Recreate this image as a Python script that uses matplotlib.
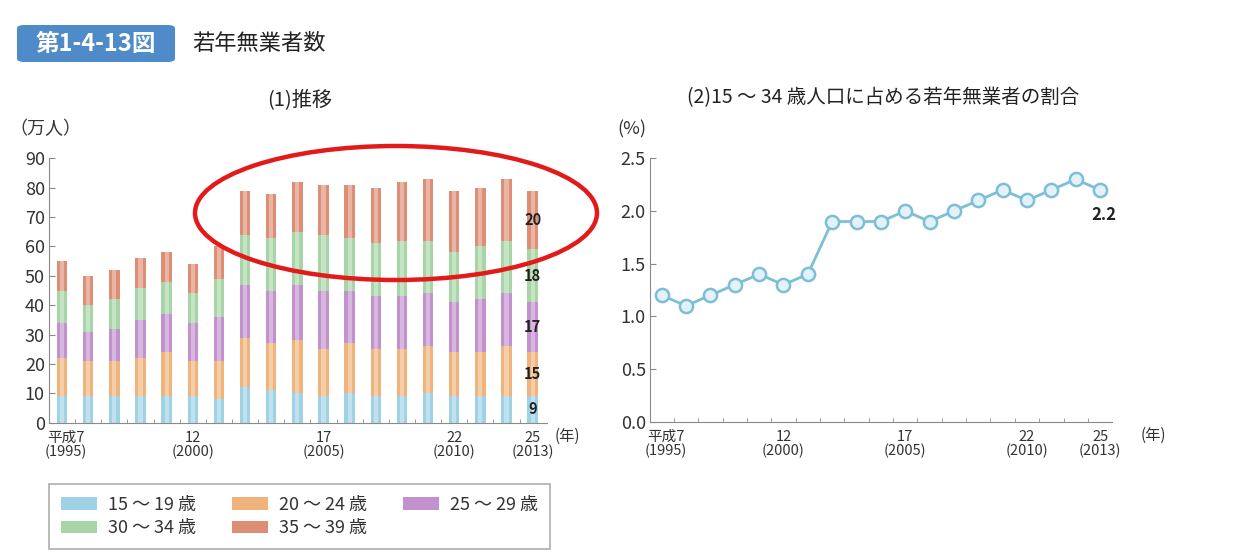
import numpy as np
import matplotlib
matplotlib.use('Agg')
import matplotlib.pyplot as plt
import matplotlib.transforms as mtransforms
from matplotlib.patches import Patch, Ellipse, FancyBboxPatch

plt.rcParams['font.family'] = ['Noto Sans CJK JP', 'DejaVu Sans']

# ---- data ----
years = list(range(1995, 2014))
age_groups = ['15 ～ 19 歳', '20 ～ 24 歳', '25 ～ 29 歳', '30 ～ 34 歳', '35 ～ 39 歳']
age_15_19 = [9, 9, 9, 9, 9, 9, 8, 12, 11, 10, 9, 10, 9, 9, 10, 9, 9, 9, 9]
age_20_24 = [13, 12, 12, 13, 15, 12, 13, 17, 16, 18, 16, 17, 16, 16, 16, 15, 15, 17, 15]
age_25_29 = [12, 10, 11, 13, 13, 13, 15, 18, 18, 19, 20, 18, 18, 18, 18, 17, 18, 18, 17]
age_30_34 = [11, 9, 10, 11, 11, 10, 13, 17, 18, 18, 19, 18, 18, 19, 18, 17, 18, 18, 18]
age_35_39 = [10, 10, 10, 10, 10, 10, 11, 15, 15, 17, 17, 18, 19, 20, 21, 21, 20, 21, 20]
ratio = [1.2, 1.1, 1.2, 1.3, 1.4, 1.3, 1.4, 1.9, 1.9, 1.9, 2.0, 1.9, 2.0, 2.1, 2.2, 2.1, 2.2, 2.3, 2.2]

tick_idx = [0, 5, 10, 15, 18]
tick_labels = ['平成7\n(1995)', '12\n(2000)', '17\n(2005)', '22\n(2010)', '25\n(2013)']

colors = ['#9fd2e4', '#efb47c', '#c491cf', '#a8d5a6', '#de8e75']
axis_gray = '#8a8a8a'
text_col = '#333333'

fig = plt.figure(figsize=(12.56, 5.58), dpi=100)

# ---- header ----
box = FancyBboxPatch((17 / 1256, 1 - 62 / 558), 158 / 1256, 37 / 558,
                     boxstyle='round,pad=0,rounding_size=0.006',
                     transform=fig.transFigure, facecolor='#4f8ac9', edgecolor='none')
fig.patches.append(box)
fig.text(96 / 1256, 1 - 44 / 558, '第1-4-13図', color='white', fontsize=17,
         fontweight='bold', ha='center', va='center')
fig.text(192 / 1256, 1 - 44 / 558, '若年無業者数', color='#222222', fontsize=16,
         ha='left', va='center')


def style_axis(ax):
    ax.set_xticks(tick_idx)
    ax.set_xticklabels(tick_labels, fontsize=10.5, color=text_col, linespacing=1.0)
    ax.set_xticks(np.arange(0.5, 18.5, 1), minor=True)
    ax.tick_params(axis='x', which='major', length=0, pad=6)
    ax.tick_params(axis='x', which='minor', direction='in', length=3, color=axis_gray)
    ax.tick_params(axis='y', direction='in', length=4, color=axis_gray, labelsize=13,
                   labelcolor=text_col, pad=3)
    for s in ['top', 'right']:
        ax.spines[s].set_visible(False)
    for s in ['left', 'bottom']:
        ax.spines[s].set_color(axis_gray)
    # nudge the first label a little right so it clears the "0"
    lab0 = ax.get_xticklabels()[0]
    lab0.set_transform(lab0.get_transform() +
                       mtransforms.ScaledTranslation(4 / 100, 0, fig.dpi_scale_trans))


# ---- left: stacked bars ----
ax1 = fig.add_axes([49 / 1256, 1 - 422.7 / 558, 498 / 1256, 264.4 / 558])
x = np.arange(len(years))
series = [age_15_19, age_20_24, age_25_29, age_30_34, age_35_39]
bottom = np.zeros(len(years))
handles = []
for vals, col, lab in zip(series, colors, age_groups):
    vals = np.array(vals)
    ax1.bar(x, vals, width=0.4, bottom=bottom, color=col, edgecolor='none')
    # light centre stripe
    ax1.bar(x, vals, width=0.16, bottom=bottom, color='white', alpha=0.35, edgecolor='none')
    handles.append(Patch(facecolor=col, edgecolor='none', label=lab))
    bottom = bottom + vals

# value labels on last bar
last = len(years) - 1
b = 0
for vals in series:
    v = vals[last]
    ax1.text(last, b + v / 2, str(v), ha='center', va='center', fontsize=10.5,
             fontweight='bold', color='#222222')
    b += v

ax1.set_xlim(-0.5, 18.55)
ax1.set_ylim(0, 90)
ax1.set_yticks(range(0, 91, 10))
style_axis(ax1)
ax1.text(-0.08, 1.11, '（万人）', transform=ax1.transAxes, fontsize=13, color=text_col,
         ha='left', va='center')
ax1.text(1.04, -0.05, '(年)', transform=ax1.transAxes, fontsize=11, color=text_col,
         ha='center', va='center')
fig.text(300 / 1256, 1 - 100 / 558, '(1)推移', fontsize=14.5, color='#222222',
         ha='center', va='center')

# ---- right: ratio line ----
ax2 = fig.add_axes([650 / 1256, 1 - 421.7 / 558, 462 / 1256, 263.4 / 558])
ax2.plot(x, ratio, color='#7cbfd6', linewidth=2, marker='o', markersize=9.5,
         markerfacecolor='#e2f2f8', markeredgecolor='#7cbfd6', markeredgewidth=1.8)
ax2.set_xlim(-0.48, 18.49)
ax2.set_ylim(0, 2.5)
ax2.set_yticks(np.arange(0, 2.51, 0.5))
ax2.set_yticklabels([f'{v:.1f}' for v in np.arange(0, 2.51, 0.5)])
style_axis(ax2)
ax2.annotate(f'{ratio[-1]}', (last, ratio[-1]), xytext=(3, -18), textcoords='offset points',
             ha='center', va='center', fontsize=12, fontweight='bold', color='#222222')
ax2.text(-0.07, 1.11, '(%)', transform=ax2.transAxes, fontsize=13, color=text_col,
         ha='left', va='center')
ax2.text(1.09, -0.05, '(年)', transform=ax2.transAxes, fontsize=11, color=text_col,
         ha='center', va='center')
fig.text(883 / 1256, 1 - 98 / 558, '(2)15 ～ 34 歳人口に占める若年無業者の割合', fontsize=14,
         color='#222222', ha='center', va='center')

# ---- legend (row-major order) ----
order = [0, 3, 1, 4, 2]
leg = fig.legend([handles[i] for i in order], [age_groups[i] for i in order],
                 loc='lower left', bbox_to_anchor=(49 / 1256, 1 - 549 / 558), ncol=3,
                 fontsize=13, handlelength=2.0, handleheight=0.7, columnspacing=2.0,
                 handletextpad=0.6, labelspacing=0.3, borderpad=0.65, borderaxespad=0,
                 frameon=True, fancybox=False)
leg.get_frame().set_edgecolor('#999999')
leg.get_frame().set_linewidth(1.2)
for t in leg.get_texts():
    t.set_color(text_col)

# ---- red highlight ellipse ----
ell = Ellipse((396 / 1256, 1 - 213 / 558), 402 / 1256, 134 / 558, transform=fig.transFigure,
              fill=False, edgecolor='#e31a1a', linewidth=3.2)
fig.patches.append(ell)

fig.savefig('out.png', dpi=100)
